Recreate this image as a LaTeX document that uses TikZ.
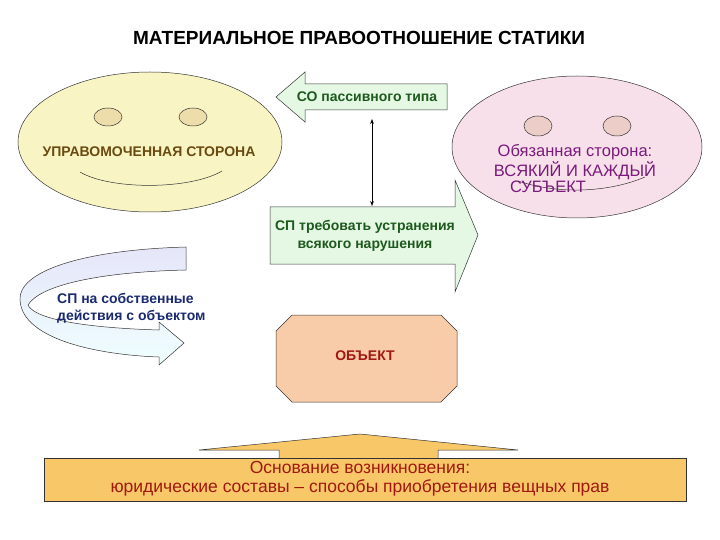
\documentclass[tikz,border=0pt]{standalone}
\usepackage{fontspec}
\setmainfont{Liberation Sans}
\usetikzlibrary{arrows.meta}
\definecolor{facey}{HTML}{F8F4C4}
\definecolor{facep}{HTML}{F8E0EA}
\definecolor{grn}{HTML}{E4F8E4}
\definecolor{dgreen}{HTML}{1E5A1E}
\definecolor{purp}{HTML}{7A1A7A}
\definecolor{dblue}{HTML}{1A2A70}
\definecolor{peach}{HTML}{F8CCA8}
\definecolor{orng}{HTML}{F8C868}
\definecolor{dred}{HTML}{A01810}
\definecolor{brn}{HTML}{6A4A10}
\tikzset{shp/.style={draw=black!80,line width=0.5pt},
 lbl/.style={font=\bfseries\fontsize{14}{16}\selectfont,align=center,inner sep=0}}
\begin{document}
\begin{tikzpicture}[x=1pt,y=-1pt]
\useasboundingbox (0,0) rectangle (720,540);
\node[font=\bfseries\fontsize{19}{22}\selectfont] (title) at (359,38) {МАТЕРИАЛЬНОЕ ПРАВООТНОШЕНИЕ СТАТИКИ};
% left face
\draw[shp,fill=facey] (150,142) ellipse [x radius=132,y radius=70];
\draw[shp,fill=facey!80!brown] (108,117) ellipse [x radius=14,y radius=9];
\draw[shp,fill=facey!80!brown] (193,117) ellipse [x radius=14,y radius=9];
\draw[shp] (80,172) .. controls (110,190) and (190,190) .. (222,171);
\node[lbl,text=brn] (up) at (149,152) {УПРАВОМОЧЕННАЯ СТОРОНА};
% right face
\draw[shp,fill=facep] (577,147) ellipse [x radius=125,y radius=71];
\draw[shp,fill=facep!80!brown] (538,126) ellipse [x radius=14,y radius=10];
\draw[shp,fill=facep!80!brown] (617,126) ellipse [x radius=14,y radius=10];
\draw[shp] (518,181) .. controls (560,195) and (610,192) .. (645,177);
\node[lbl,text=purp,font=\fontsize{16.5}{18}\selectfont] (ob) at (575,152) {Обязанная сторона:};
\node[lbl,text=purp,font=\fontsize{16.5}{18}\selectfont] (vs) at (575,171) {ВСЯКИЙ И КАЖДЫЙ};
\node[lbl,text=purp,font=\fontsize{16.5}{18}\selectfont] (sb) at (548,187) {СУБЪЕКТ};
% arrow CO
\draw[shp,fill=grn] (276,97) -- (305,72) -- (305,84) -- (447,84) -- (447,110) -- (305,110) -- (305,122) -- cycle;
\node[lbl,text=dgreen] (co) at (367,97) {СО пассивного типа};
% right arrow SP
\draw[shp,fill=grn] (270,207) -- (455,207) -- (455,180) -- (478,235) -- (455,292) -- (455,264) -- (270,264) -- cycle;
\node[lbl,text=dgreen] (sp) at (365,236) {СП требовать устранения\\[2pt]всякого нарушения};
\coordinate (va) at (372,119);
\coordinate (vb) at (372,206);
\draw[{Stealth[length=5pt]}-{Stealth[length=5pt]}, line width=0.6pt] (va) -- (vb);
% curved arrow
\shade[top color=black!25!blue!10,bottom color=cyan!6,draw=black!80,line width=0.5pt]
 (186,247) .. controls (80,250) and (18,272) .. (20,300)
 .. controls (22,340) and (100,355) .. (159,357) -- (159,365) -- (184,343) -- (159,322) -- (159,330)
 .. controls (90,328) and (35,320) .. (28,305)
 .. controls (40,285) and (100,272) .. (186,270) -- cycle;
\node[lbl,text=dblue,align=left,anchor=west] (own) at (57,308) {СП на собственные\\[1pt]действия с объектом};
% object octagon
\draw[shp,fill=peach] (292,315) -- (441,315) -- (457,331) -- (457,386) -- (441,402) -- (292,402) -- (276,386) -- (276,331) -- cycle;
\node[lbl,text=dred] (obj) at (365,356) {ОБЪЕКТ};
% bottom
\draw[shp,fill=orng] (279,458) -- (279,450) -- (199,450) -- (360,434) -- (518,450) -- (438,450) -- (438,458);
\draw[shp,fill=orng] (44,458) rectangle (686,501);
\node[lbl,text=dred,font=\fontsize{17.5}{19}\selectfont] (osn) at (360,479) {Основание возникновения:\\[0pt]юридические составы – способы приобретения вещных прав};
\end{tikzpicture}
\end{document}
